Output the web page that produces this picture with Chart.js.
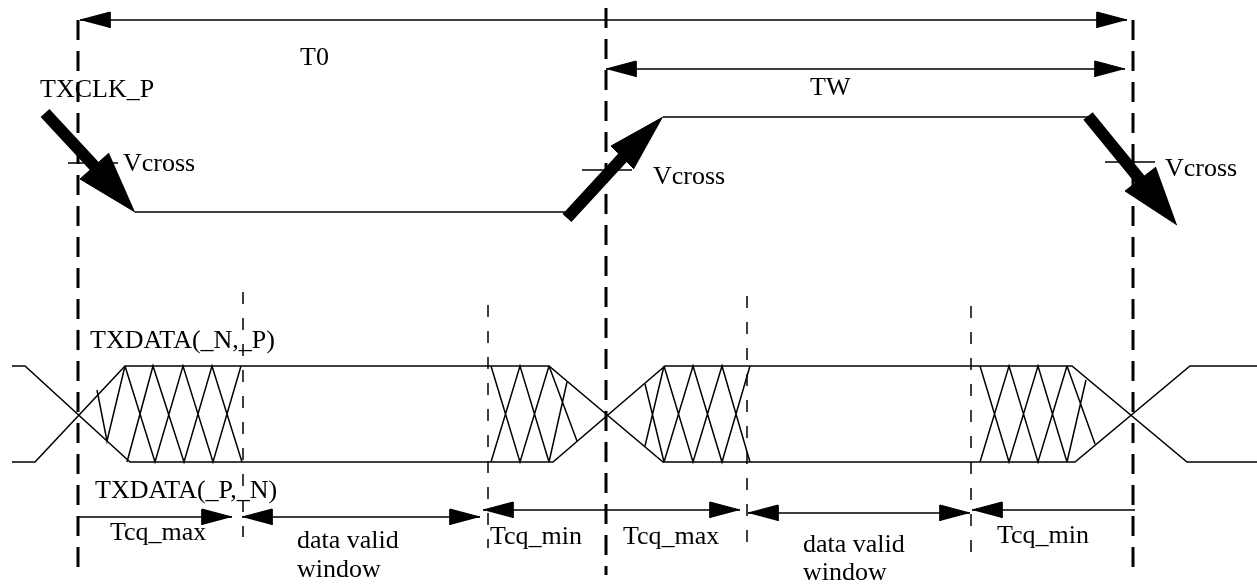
<!DOCTYPE html>
<html>
<head>
<meta charset="utf-8">
<script src="https://cdn.jsdelivr.net/npm/chart.js@4.4.0/dist/chart.umd.min.js"></script>
<style>
html, body { margin: 0; padding: 0; background: #fff; }
#wrap { width: 1257px; height: 584px; }
</style>
</head>
<body>
<div id="wrap"><canvas id="timing-chart" width="1257" height="584"></canvas></div>
<script>
/**
 *  Diagram values (x = time, y = level, y grows downward)
 */
var clockWave = [[[135, 212], [565, 212]], [[663, 117], [1088, 117]]];
var clockEdges = [[[45, 113], [97, 169]], [[567, 218], [625, 155]], [[1088, 116], [1142, 182]]];
var clockHeads = [[[135, 212], [80, 179], [109, 153]], [[663, 117], [611, 146], [634, 169]], [[1177, 225], [1125, 191], [1156, 167]]];
var vcrossMarks = [[[68, 163], [118, 163]], [[582, 170], [632, 170]], [[1105, 162], [1155, 162]]];

var dataLineA = [[12, 366], [25, 366], [130, 462], [553, 462], [665, 366], [1072, 366], [1187, 462], [1257, 462]];
var dataLineB = [[12, 462], [35, 462], [125, 366], [549, 366], [663, 462], [1075, 462], [1190, 366], [1257, 366]];
var hatch = [
    [[125, 366], [155, 462], [183, 366], [213, 462], [241, 366]],
    [[127, 462], [153, 366], [184, 462], [212, 366], [242, 462]],
    [[97, 390], [107, 441], [125, 366]],
    [[491, 366], [520, 462], [549, 366]],
    [[491, 462], [520, 366], [549, 462]],
    [[549, 366], [577, 441]],
    [[549, 462], [567, 382]],
    [[645, 384], [664, 462]],
    [[645, 446], [664, 366]],
    [[664, 366], [693, 462], [722, 366], [750, 462]],
    [[664, 462], [693, 366], [722, 462], [750, 366]],
    [[980, 366], [1009, 462], [1038, 366], [1067, 462]],
    [[980, 462], [1009, 366], [1038, 462], [1067, 366]],
    [[1067, 366], [1095, 444]],
    [[1067, 462], [1086, 380]]
];

// [x, yFrom, yTo]
var edgeMarkers = [[78, 20, 575], [606, 8, 575], [1133, 20, 575]];
var sampleMarkers = [[243, 292, 537], [488, 305, 548], [747, 296, 542], [971, 306, 552]];

// [xFrom, xTo, y, headAtFrom, headAtTo]
var spans = [
    [80, 1127, 20, true, true],
    [606, 1125, 69, true, true],
    [78, 232, 517, false, true],
    [242, 480, 517, true, true],
    [483, 740, 510, true, true],
    [748, 970, 513, true, true],
    [972, 1135, 510, true, false]
];

// [text, x, baseline y]
var labels = [
    ['T0', 300, 65],
    ['TW', 810, 95],
    ['TXCLK_P', 40, 97],
    ['Vcross', 123, 171],
    ['Vcross', 653, 184],
    ['Vcross', 1165, 176],
    ['TXDATA(_N,_P)', 90, 348],
    ['TXDATA(_P,_N)', 95, 498],
    ['Tcq_max', 110, 540],
    ['data valid', 297, 548],
    ['window', 297, 577],
    ['Tcq_min', 490, 544],
    ['Tcq_max', 623, 544],
    ['data valid', 803, 552],
    ['window', 803, 580],
    ['Tcq_min', 997, 543]
];

/**
 *  Turn lists of polylines into one point list, broken by gaps
 */
function toPoints(polylines)
{
    var pts = [];
    polylines.forEach(function (line, i) {
        if (i > 0) {
            pts.push({x: line[0][0], y: null});
        }
        line.forEach(function (p) {
            pts.push({x: p[0], y: p[1]});
        });
    });
    return pts;
}

var headLen = 30;
var headHalf = 8;
var spanLines = [];
var spanHeads = [];
spans.forEach(function (s) {
    spanLines.push([[s[0], s[2]], [s[1], s[2]]]);
    if (s[3]) {
        spanHeads.push([[s[0], s[2]], [s[0] + headLen, s[2] - headHalf], [s[0] + headLen, s[2] + headHalf]]);
    }
    if (s[4]) {
        spanHeads.push([[s[1], s[2]], [s[1] - headLen, s[2] - headHalf], [s[1] - headLen, s[2] + headHalf]]);
    }
});

function verticals(list)
{
    return list.map(function (v) { return [[v[0], v[1]], [v[0], v[2]]]; });
}

function lineSet(points, width, dash)
{
    return {
        data: points,
        showLine: true,
        borderColor: '#000',
        borderWidth: width,
        borderDash: dash || [],
        pointRadius: 0,
        fill: false,
        tension: 0
    };
}

var shapeSet = function (points) {
    return {
        data: points,
        showLine: true,
        borderColor: '#000',
        backgroundColor: '#000',
        borderWidth: 1,
        pointRadius: 0,
        fill: 'shape',
        tension: 0
    };
};

/**
 *  Labels are drawn at value positions through the scales
 */
var textPlugin = {
    id: 'diagramText',
    afterDatasetsDraw: function (chart) {
        var ctx = chart.ctx;
        var xs = chart.scales.x;
        var ys = chart.scales.y;
        ctx.save();
        ctx.font = '26px "Liberation Serif"';
        ctx.fillStyle = '#000';
        ctx.textAlign = 'left';
        ctx.textBaseline = 'alphabetic';
        labels.forEach(function (l) {
            ctx.fillText(l[0], xs.getPixelForValue(l[1]), ys.getPixelForValue(l[2]));
        });
        ctx.restore();
    }
};

var ctx = document.getElementById('timing-chart').getContext('2d');
var myTimingChart = new Chart(ctx, {
    type: 'scatter',
    data: {
        datasets: [
            lineSet(toPoints(verticals(edgeMarkers)), 3, [20, 11]),
            lineSet(toPoints(verticals(sampleMarkers)), 1.5, [12, 14]),
            lineSet(toPoints(spanLines), 1.5),
            shapeSet(toPoints(spanHeads)),
            lineSet(toPoints(clockWave), 1.5),
            lineSet(toPoints(clockEdges), 12),
            shapeSet(toPoints(clockHeads)),
            lineSet(toPoints(vcrossMarks), 1.5),
            lineSet(toPoints([dataLineA]), 1.5),
            lineSet(toPoints([dataLineB]), 1.5),
            lineSet(toPoints(hatch), 1.5)
        ]
    },
    options: {
        responsive: false,
        animation: false,
        events: [],
        layout: { padding: 0 },
        scales: {
            x: { type: 'linear', min: 0, max: 1257, display: false },
            y: { type: 'linear', min: 0, max: 584, reverse: true, display: false }
        },
        plugins: {
            legend: { display: false },
            tooltip: { enabled: false }
        }
    },
    plugins: [textPlugin]
});
</script>
</body>
</html>
